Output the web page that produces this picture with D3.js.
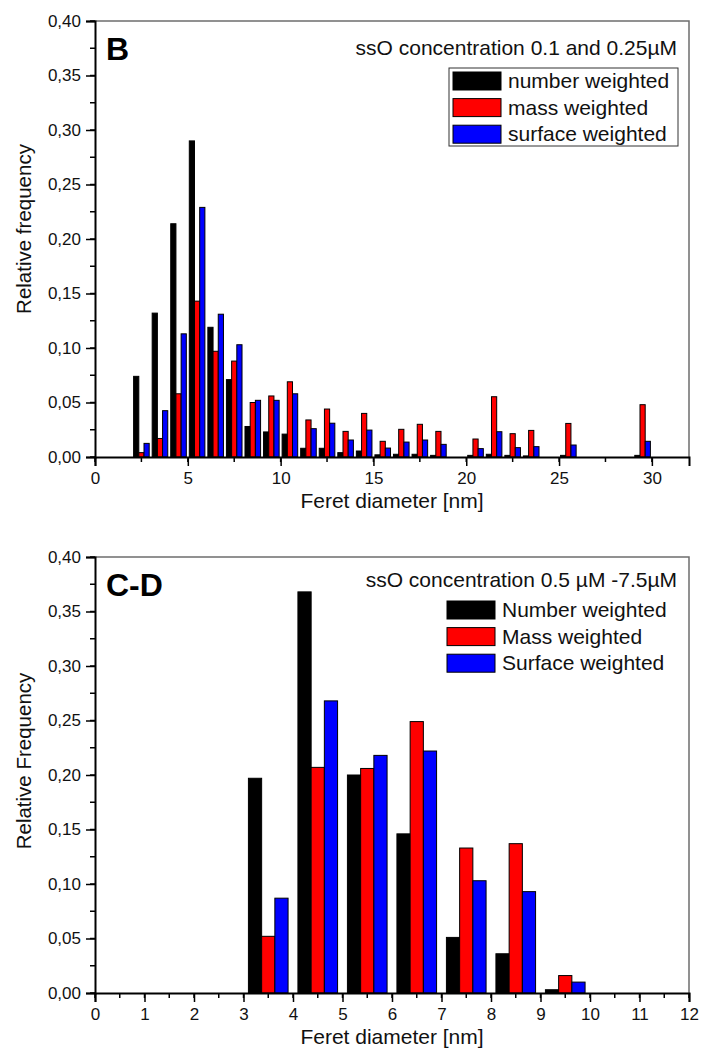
<!DOCTYPE html>
<html>
<head>
<meta charset="utf-8">
<script src="https://cdn.jsdelivr.net/npm/d3@7"></script>
<style>
  html, body { margin: 0; padding: 0; background: #fff; }
  svg { display: block; font-family: "Liberation Sans", Arial, Helvetica, sans-serif; }
</style>
</head>
<body>
<svg id="chart" width="701" height="1050"></svg>
<script>
// ---- Panel B: ssO 0.1 and 0.25 µM ----
const binsB = [2.5, 3.5, 4.5, 5.5, 6.5, 7.5, 8.5, 9.5, 10.5, 11.5, 12.5, 13.5, 14.5, 15.5,
               16.5, 17.5, 18.5, 19.5, 20.5, 21.5, 22.5, 23.5, 24.5, 25.5, 26.5, 27.5, 28.5, 29.5];
const numberB  = [0.074, 0.132, 0.214, 0.290, 0.119, 0.071, 0.028, 0.023, 0.021, 0.008, 0.008, 0.004, 0.0055, 0.002,
                  0.0025, 0.0025, 0.0015, 0, 0.0015, 0.0025, 0.0015, 0.001, 0, 0.0015, 0, 0, 0, 0.0015];
const massB    = [0.004, 0.017, 0.058, 0.143, 0.097, 0.088, 0.050, 0.056, 0.069, 0.034, 0.044, 0.0235, 0.040, 0.0144,
                  0.0254, 0.030, 0.0235, 0, 0.0165, 0.0553, 0.0214, 0.0244, 0, 0.0308, 0, 0, 0, 0.048];
const surfaceB = [0.0125, 0.0425, 0.113, 0.229, 0.131, 0.103, 0.052, 0.052, 0.058, 0.026, 0.031, 0.0156, 0.0247, 0.0082,
                  0.0137, 0.0156, 0.0116, 0, 0.0077, 0.0232, 0.0086, 0.0095, 0, 0.011, 0, 0, 0, 0.0144];
const xTicksB = [0, 5, 10, 15, 20, 25, 30];
const legendB = ["number weighted", "mass weighted", "surface weighted"];

// ---- Panel C-D: ssO 0.5 µM - 7.5 µM ----
const binsCD = [3.5, 4.5, 5.5, 6.5, 7.5, 8.5, 9.5];
const numberCD  = [0.197, 0.368, 0.200, 0.146, 0.051, 0.036, 0.003];
const massCD    = [0.052, 0.207, 0.206, 0.249, 0.133, 0.137, 0.016];
const surfaceCD = [0.087, 0.268, 0.218, 0.222, 0.103, 0.093, 0.010];
const xTicksCD = [0, 1, 2, 3, 4, 5, 6, 7, 8, 9, 10, 11, 12];
const legendCD = ["Number weighted", "Mass weighted", "Surface weighted"];

const yTicks = [0, 0.05, 0.10, 0.15, 0.20, 0.25, 0.30, 0.35, 0.40];
const seriesColors = ["#000000", "#ff0000", "#0000ff"];

const svg = d3.select("#chart");
const fmtComma = v => d3.format(".2f")(v).replace(".", ",");

function drawPanel(opt) {
  const g = svg.append("g");
  const x = d3.scaleLinear().domain(opt.xDomain).range([opt.left, opt.right]);
  const y = d3.scaleLinear().domain([0, 0.40]).range([opt.bottom, opt.top]);

  // bars: three adjacent bars per bin
  const series = [opt.number, opt.mass, opt.surface];
  series.forEach((vals, si) => {
    const off = (si - 1) * opt.barW;
    const data = opt.bins.map((b, i) => ({ b, v: vals[i] })).filter(d => d.v > 0);
    g.append("g").selectAll("rect").data(data).join("rect")
      .attr("x", d => x(d.b + off - opt.barW / 2))
      .attr("width", d => x(d.b + off + opt.barW / 2) - x(d.b + off - opt.barW / 2))
      .attr("y", d => y(d.v))
      .attr("height", d => y(0) - y(d.v))
      .attr("fill", seriesColors[si])
      .attr("stroke", "#000")
      .attr("stroke-width", 1);
  });

  // frame (top and right)
  g.append("path")
    .attr("d", `M${opt.left},${opt.top}H${opt.right}V${opt.bottom}`)
    .attr("fill", "none").attr("stroke", "#6e6e6e").attr("stroke-width", 1.5);

  // y axis
  const minorY = d3.range(0, 0.4001, 0.025);
  const yAxis = g.append("g").attr("transform", `translate(${opt.left},0)`);
  yAxis.selectAll("line.minor").data(minorY).join("line")
    .attr("x1", -5).attr("x2", 0).attr("y1", d => y(d)).attr("y2", d => y(d))
    .attr("stroke", "#000").attr("stroke-width", 1.5);
  yAxis.call(d3.axisLeft(y).tickValues(yTicks).tickFormat(fmtComma).tickSize(9).tickPadding(5))
    .call(s => s.select(".domain").attr("stroke-width", 2))
    .call(s => s.selectAll(".tick line").attr("stroke-width", 1.5))
    .call(s => s.selectAll(".tick text").attr("font-size", 17).attr("fill", "#111")
      .attr("font-family", "Liberation Sans, Arial, sans-serif"));

  // x axis
  const minorX = d3.range(opt.xDomain[0], opt.xDomain[1] + 1e-9, opt.minorStep);
  const xAxis = g.append("g").attr("transform", `translate(0,${opt.bottom})`);
  xAxis.selectAll("line.minor").data(minorX).join("line")
    .attr("x1", d => x(d)).attr("x2", d => x(d)).attr("y1", 0).attr("y2", 5)
    .attr("stroke", "#000").attr("stroke-width", 1.5);
  xAxis.call(d3.axisBottom(x).tickValues(opt.xTicks).tickFormat(d3.format("d")).tickSize(9).tickPadding(6))
    .call(s => s.select(".domain").attr("stroke-width", 2))
    .call(s => s.selectAll(".tick line").attr("stroke-width", 1.5))
    .call(s => s.selectAll(".tick text").attr("font-size", 17).attr("fill", "#111")
      .attr("font-family", "Liberation Sans, Arial, sans-serif"));

  // axis titles
  g.append("text")
    .attr("x", (opt.left + opt.right) / 2).attr("y", opt.bottom + 51)
    .attr("text-anchor", "middle").attr("font-size", 21).attr("fill", "#111")
    .text("Feret diameter [nm]");
  g.append("text")
    .attr("transform", `translate(31,${opt.yTitleCenter}) rotate(-90)`)
    .attr("text-anchor", "middle").attr("font-size", 20.5).attr("fill", "#111")
    .text(opt.yTitle);

  // panel letter
  g.append("text")
    .attr("x", opt.left + 11).attr("y", opt.top + 39)
    .attr("font-size", 32).attr("font-weight", "bold").attr("fill", "#000")
    .text(opt.letter);

  // concentration note
  g.append("text")
    .attr("x", opt.right - 12).attr("y", opt.top + opt.noteDy)
    .attr("text-anchor", "end").attr("font-size", 21).attr("fill", "#111")
    .text(opt.note);

  // legend
  const lg = g.append("g").attr("transform", `translate(${opt.legendX},${opt.legendY})`);
  if (opt.legendBox) {
    lg.append("rect").attr("x", -4).attr("y", -4).attr("width", opt.legendBoxW).attr("height", 78)
      .attr("fill", "#fff").attr("stroke", "#333").attr("stroke-width", 1);
  }
  opt.legend.forEach((label, i) => {
    lg.append("rect").attr("x", 0).attr("y", i * 26.6).attr("width", 48).attr("height", 18)
      .attr("fill", seriesColors[i]).attr("stroke", "#000").attr("stroke-width", 1);
    lg.append("text").attr("x", 55).attr("y", i * 26.6 + 16)
      .attr("font-size", 21).attr("fill", "#111").text(label);
  });
}

drawPanel({
  top: 21, bottom: 457, left: 95, right: 689,
  xDomain: [0, 32], xTicks: xTicksB, minorStep: 2.5,
  bins: binsB, number: numberB, mass: massB, surface: surfaceB, barW: 0.28,
  yTitle: "Relative frequency", yTitleCenter: 229,
  letter: "B", note: "ssO concentration 0.1 and 0.25µM", noteDy: 34,
  legend: legendB, legendX: 453, legendY: 72, legendBox: true, legendBoxW: 229
});

drawPanel({
  top: 557, bottom: 993, left: 95, right: 689,
  xDomain: [0, 12], xTicks: xTicksCD, minorStep: 0.5,
  bins: binsCD, number: numberCD, mass: massCD, surface: surfaceCD, barW: 0.267,
  yTitle: "Relative Frequency", yTitleCenter: 761,
  letter: "C-D", note: "ssO concentration 0.5 µM -7.5µM", noteDy: 30,
  legend: legendCD, legendX: 447, legendY: 601, legendBox: false
});
</script>
</body>
</html>
